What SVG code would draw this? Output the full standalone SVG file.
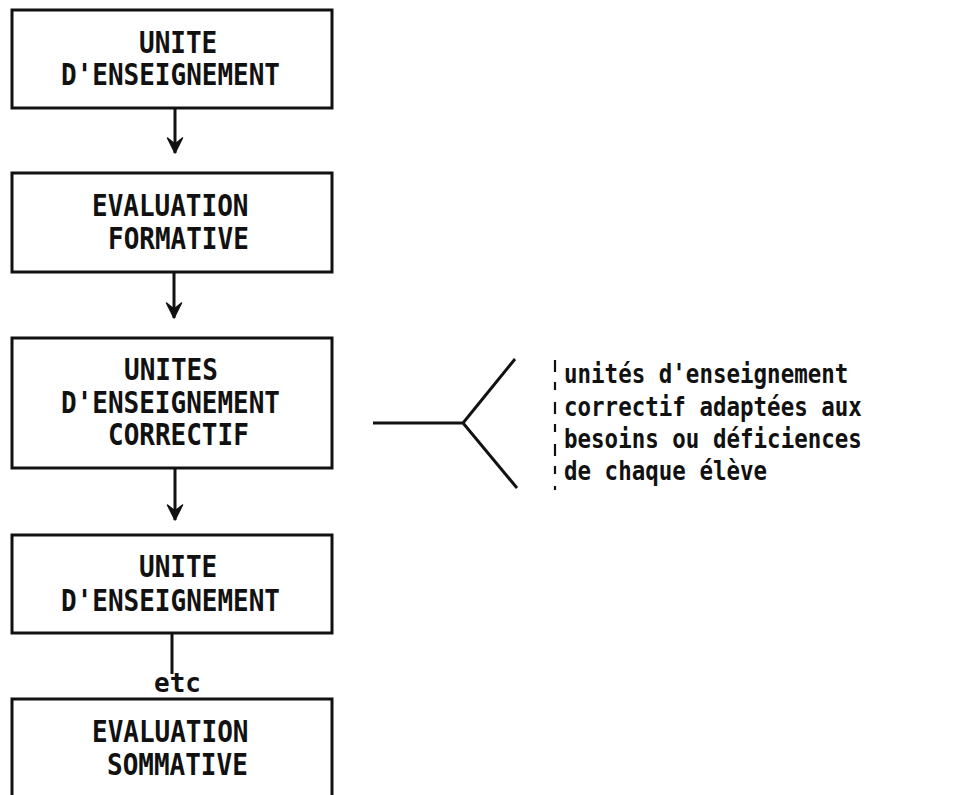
<svg xmlns="http://www.w3.org/2000/svg" width="974" height="795" viewBox="0 0 974 795">
<style>
.box{fill:#fff;stroke:#111;stroke-width:3}
.t{font-family:"DejaVu Sans Mono","Liberation Mono",monospace;font-size:26px;font-weight:bold;fill:#111}
.s{font-family:"DejaVu Sans Mono","Liberation Mono",monospace;font-size:22.5px;font-weight:bold;fill:#111}
.ln{stroke:#111;stroke-width:3;fill:none}
</style>
<defs>
<marker id="ah" markerUnits="userSpaceOnUse" markerWidth="20" markerHeight="20" refX="0" refY="0" viewBox="-16 -10 18 20" orient="auto">
<path d="M0,0 L-15,-7.5 L-9,0 L-15,7.5 Z" fill="#111" stroke="#111" stroke-width="1.5" stroke-linejoin="round"/>
</marker>
</defs>
<rect width="974" height="795" fill="#fff"/>
<g id="connectors">
<line class="ln" x1="175" y1="108" x2="175" y2="153" marker-end="url(#ah)"/>
<line class="ln" x1="174" y1="272" x2="174" y2="318" marker-end="url(#ah)"/>
<line class="ln" x1="175" y1="468" x2="175" y2="520" marker-end="url(#ah)"/>
<line class="ln" x1="172" y1="633" x2="172" y2="674"/>
<text class="t" transform="translate(154,692) scale(1,1.05)">etc</text>
</g>
<g id="n1">
<rect class="box" x="12" y="10" width="320" height="98"/>
<text class="t" transform="translate(139,53) scale(1,1.15)">UNITE</text>
<text class="t" transform="translate(61,85) scale(1,1.15)">D'ENSEIGNEMENT</text>
</g>
<g id="n2">
<rect class="box" x="12" y="173" width="320" height="99"/>
<text class="t" transform="translate(92,216) scale(1,1.15)">EVALUATION</text>
<text class="t" transform="translate(108,249) scale(1,1.15)">FORMATIVE</text>
</g>
<g id="n3">
<rect class="box" x="12" y="338" width="320" height="130"/>
<text class="t" transform="translate(124,380) scale(1,1.15)">UNITES</text>
<text class="t" transform="translate(61,413) scale(1,1.15)">D'ENSEIGNEMENT</text>
<text class="t" transform="translate(108,445) scale(1,1.15)">CORRECTIF</text>
</g>
<g id="n4">
<rect class="box" x="12" y="535" width="320" height="98"/>
<text class="t" transform="translate(139,577) scale(1,1.15)">UNITE</text>
<text class="t" transform="translate(61,611) scale(1,1.15)">D'ENSEIGNEMENT</text>
</g>
<g id="n5">
<rect class="box" x="12" y="699" width="320" height="120"/>
<text class="t" transform="translate(92,742) scale(1,1.15)">EVALUATION</text>
<text class="t" transform="translate(107,775) scale(1,1.15)">SOMMATIVE</text>
</g>
<g id="branch">
<path class="ln" d="M373,423 L463,423 M515,359 L463,423 L517,488"/>
</g>
<g id="note">
<line x1="555" y1="360" x2="555" y2="490" stroke="#111" stroke-width="2.2" stroke-dasharray="12,10,8,12"/>
<text class="s" transform="translate(564,383) scale(1,1.15)">unités d'enseignement</text>
<text class="s" transform="translate(564,416) scale(1,1.15)">correctif adaptées aux</text>
<text class="s" transform="translate(564,448) scale(1,1.15)">besoins ou déficiences</text>
<text class="s" transform="translate(564,480) scale(1,1.15)">de chaque élève</text>
</g>
</svg>
